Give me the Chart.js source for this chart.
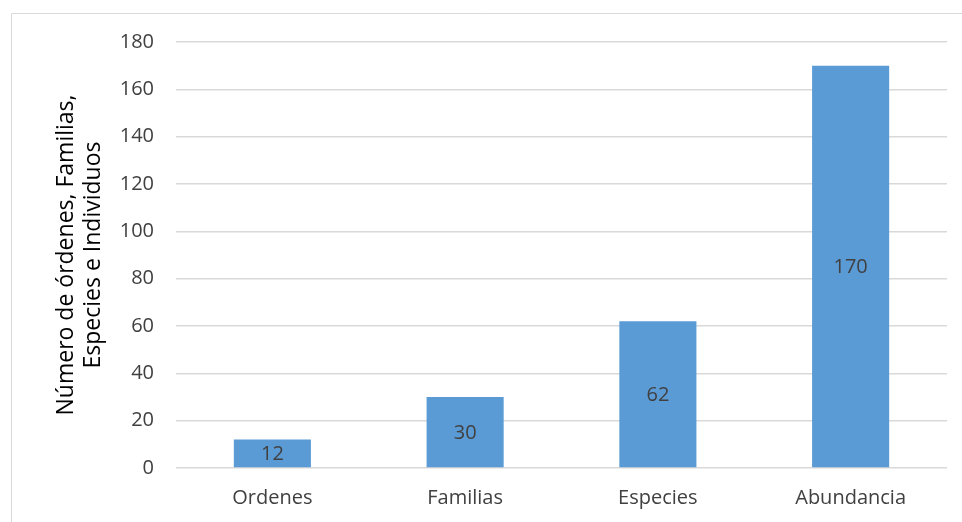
<!DOCTYPE html>
<html>
<head>
<meta charset="utf-8">
<script src="https://cdn.jsdelivr.net/npm/chart.js@4"></script>
<style>
    html, body { margin: 0; padding: 0; background: #fff; }
    #wrap { width: 962px; height: 522px; }
</style>
</head>
<body>
<div id="wrap"><canvas id="chart" width="962" height="522"></canvas></div>
<script>
// Chart data
const categories = ['Ordenes', 'Familias', 'Especies', 'Abundancia'];
const counts = [12, 30, 62, 170];
const yTitle = ['Número de órdenes, Familias,', 'Especies e Individuos'];

const FONT = "'Open Sans', Lato, sans-serif";

// Labels inside bars (centered)
const barLabels = {
    id: 'barLabels',
    afterDatasetsDraw(chart) {
        const ctx = chart.ctx;
        const meta = chart.getDatasetMeta(0);
        ctx.save();
        ctx.font = '20px ' + FONT;
        ctx.fillStyle = '#404040';
        ctx.textAlign = 'center';
        ctx.textBaseline = 'middle';
        meta.data.forEach((bar, i) => {
            const mid = (bar.y + bar.base) / 2;
            ctx.fillText(String(counts[i]), bar.x, mid + 1);
        });
        ctx.restore();
    }
};

// Outer chart frame
const frame = {
    id: 'frame',
    beforeDraw(chart) {
        const ctx = chart.ctx;
        ctx.save();
        ctx.strokeStyle = '#d9d9d9';
        ctx.lineWidth = 1;
        ctx.beginPath();
        ctx.moveTo(11.5, 530);
        ctx.lineTo(11.5, 13.5);
        ctx.lineTo(970, 13.5);
        ctx.stroke();
        ctx.restore();
    }
};

new Chart(document.getElementById('chart').getContext('2d'), {
    type: 'bar',
    data: {
        labels: categories,
        datasets: [{
            data: counts,
            backgroundColor: '#5b9bd5',
            borderWidth: 0,
            categoryPercentage: 0.4,
            barPercentage: 1.0
        }]
    },
    options: {
        responsive: false,
        animation: false,
        layout: { padding: { top: 42, right: 15, bottom: 0, left: 0 } },
        plugins: {
            legend: { display: false },
            tooltip: { enabled: false }
        },
        scales: {
            x: {
                grid: { display: false, drawTicks: false },
                border: { display: false },
                ticks: { color: '#404040', font: { family: FONT, size: 20 }, padding: 18 },
                afterFit(scale) { scale.height = 54; }
            },
            y: {
                min: 0,
                max: 180,
                ticks: { stepSize: 20, color: '#404040', font: { family: FONT, size: 20 }, padding: 22 },
                grid: { color: '#d9d9d9', lineWidth: 1.5, drawTicks: false },
                border: { display: false },
                title: {
                    display: true,
                    text: yTitle,
                    color: '#000',
                    font: { family: FONT, size: 23, lineHeight: 1.17 },
                    padding: { top: 53, bottom: 0 }
                },
                afterFit(scale) { scale.width = 176; }
            }
        }
    },
    plugins: [frame, barLabels]
});
</script>
</body>
</html>
